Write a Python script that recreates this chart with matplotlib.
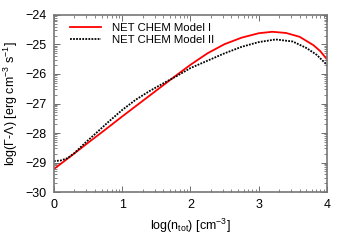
import numpy as np
import matplotlib
matplotlib.use("Agg")
import matplotlib.pyplot as plt

plt.rcParams["font.family"] = ["Liberation Sans", "DejaVu Sans"]
plt.rcParams["mathtext.fontset"] = "custom"
plt.rcParams["mathtext.rm"] = "Liberation Sans"
plt.rcParams["mathtext.it"] = "Liberation Sans"

# data
x_model1 = [0.0, 0.25, 0.5, 0.75, 1.0, 1.25, 1.5, 1.75, 2.0, 2.25, 2.5, 2.75,
            3.0, 3.2, 3.4, 3.6, 3.8, 3.9, 4.0]
y_model1 = [-29.22, -28.78, -28.33, -27.89, -27.44, -27.0, -26.56, -26.12,
            -25.69, -25.30, -24.99, -24.77, -24.62, -24.57, -24.61, -24.74,
            -25.02, -25.22, -25.5]

x_model2 = [0.0, 0.1, 0.2, 0.3, 0.45, 0.6, 0.8, 1.0, 1.2, 1.4, 1.6, 1.8, 2.0,
            2.25, 2.5, 2.75, 3.0, 3.25, 3.5, 3.7, 3.85, 4.0]
y_model2 = [-28.95, -28.93, -28.85, -28.68, -28.35, -28.04, -27.62, -27.22,
            -26.87, -26.58, -26.32, -26.07, -25.80, -25.55, -25.30, -25.08,
            -24.92, -24.83, -24.90, -25.12, -25.35, -25.69]

x_ticks = [0, 1, 2, 3, 4]
y_ticks = [-30, -29, -28, -27, -26, -25, -24]

fig = plt.figure(figsize=(3.5, 2.45), dpi=100)
ax = fig.add_axes([0.154, 0.216, 0.780, 0.723])

ax.plot(x_model1, y_model1, color="#ff0000", lw=1.3, label="NET CHEM Model I")
ax.plot(x_model2, y_model2, color="black", lw=1.3, linestyle=(0, (1, 0.7)),
        label="NET CHEM Model II")

ax.set_xlim(0, 4)
ax.set_ylim(-30, -24)
ax.set_xticks(x_ticks)
ax.set_yticks(y_ticks)

# log-spaced minor ticks, gnuplot style
logs = np.log10(np.arange(2, 10))
ax.set_xticks([k + l for k in range(0, 4) for l in logs], minor=True)
ax.set_yticks([k + l for k in range(-30, -24) for l in logs], minor=True)

ax.tick_params(which="both", direction="in", top=True, right=True,
               color="#555555", labelsize=9)
ax.tick_params(which="major", length=4, width=0.6, pad=5)
ax.tick_params(which="minor", length=2, width=0.5)
for s in ax.spines.values():
    s.set_color("#777777")
    s.set_linewidth(1.2)

ax.set_xlabel(r"log(n$_{\rm tot}$) [cm$^{-3}$]", fontsize=9, labelpad=4)
ax.set_ylabel(r"log($\Gamma$-$\Lambda$) [erg cm$^{-3}$ s$^{-1}$]", fontsize=9,
              labelpad=4)

ax.legend(loc="upper left", frameon=False, fontsize=8.2, handlelength=2.7,
          handletextpad=1.0, borderaxespad=0.2, labelspacing=0.2,
          bbox_to_anchor=(0.035, 0.995))

fig.savefig("out.png", dpi=100)
